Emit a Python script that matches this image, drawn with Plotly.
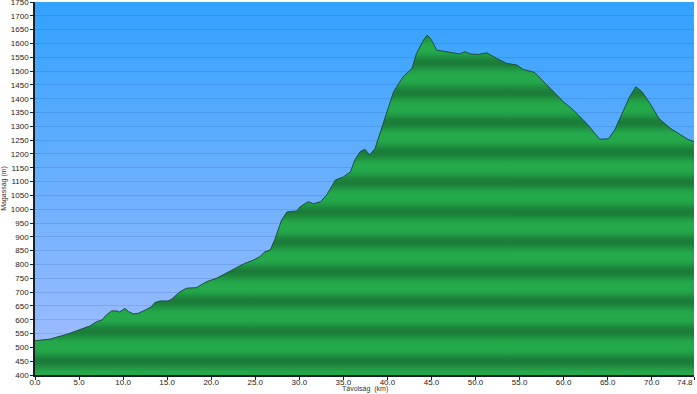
import numpy as np
import plotly.graph_objects as go

# distance along route (km)
dist_km = [0, 1.7, 3.6, 5.0, 6.2, 7.0, 7.6, 8.1, 8.7, 9.3, 9.6, 10.2, 10.6, 11.15, 11.7,
           12.7, 13.2, 13.6, 14.2, 15.1, 15.5, 16.45, 17.2, 18.3, 19.5, 20.6, 21.7, 22.9,
           23.8, 24.8, 25.5, 26.1, 26.7, 27.2, 27.6, 28.0, 28.6, 29.7, 30.1, 31.0, 31.6,
           32.4, 33.1, 34.1, 35.0, 35.8, 36.3, 36.9, 37.45, 38.0, 38.6, 39.5, 40.7, 41.8,
           42.8, 43.3, 44.1, 44.5, 44.9, 45.6, 46.7, 48.2, 48.8, 49.4, 50.3, 51.3, 52.4,
           53.5, 54.7, 55.4, 56.4, 56.75, 57.9, 59.97, 61.1, 62.6, 64.1, 65.1, 65.8, 66.8,
           67.5, 68.2, 68.9, 69.8, 70.8, 72.1, 73.3, 74.2, 74.8]
# elevation (m)
elev_m = [524, 530, 547, 563, 577, 593, 599, 617, 632, 632, 628, 641, 630, 621, 623,
          638, 647, 662, 668, 668, 674, 701, 714, 716, 738, 750, 768, 790,
          804, 816, 828, 846, 852, 889, 925, 961, 990, 994, 1009, 1027, 1020,
          1027, 1051, 1106, 1117, 1135, 1178, 1208, 1217, 1196, 1220, 1305, 1425, 1480,
          1510, 1564, 1612, 1630, 1618, 1576, 1570, 1562, 1570, 1562, 1560, 1566, 1546,
          1528, 1522, 1506, 1498, 1494, 1456, 1389, 1359, 1311, 1253, 1255, 1287, 1359,
          1407, 1443, 1425, 1383, 1329, 1293, 1269, 1251, 1245]
assert len(dist_km) == len(elev_m)

x_tick_vals = [0, 5, 10, 15, 20, 25, 30, 35, 40, 45, 50, 55, 60, 65, 70, 74.8]
x_tick_text = ["0.0", "5.0", "10.0", "15.0", "20.0", "25.0", "30.0", "35.0", "40.0",
               "45.0", "50.0", "55.0", "60.0", "65.0", "70.0", "74.8"]
y_min, y_max, y_step = 400, 1750, 50
y_tick_vals = list(range(y_min, y_max + 1, y_step))

# ---- styling helpers ----
def lerp(c1, c2, t):
    return tuple(int(round(a + (b - a) * t)) for a, b in zip(c1, c2))

def rgb(c):
    return "rgb(%d,%d,%d)" % c

# green banded fill gradient (repeating)
dark_g = (27, 124, 57)
light_g = (36, 170, 75)
period = 108.0
phase_dark = 450.0
stops = []
levels = np.linspace(y_min, y_max, 181)
for e in levels:
    t = 0.5 + 0.5 * np.cos(2 * np.pi * (e - phase_dark) / period)  # 1 at dark
    t = t ** 1.5
    stops.append([(e - y_min) / (y_max - y_min), rgb(lerp(light_g, dark_g, t))])
stops[0][0] = 0.0
stops[-1][0] = 1.0

# sky background bands (overlapping to avoid seams)
bot_b = (166, 190, 255)
top_b = (50, 162, 255)
shapes = []
n_b = 90
edges = np.linspace(y_min, y_max, n_b + 1)
for i in range(n_b):
    t = (i + 0.5) / n_b
    shapes.append(dict(type="rect", xref="paper", yref="y", x0=0, x1=1,
                       y0=edges[i], y1=min(edges[i + 1] + 12, y_max), layer="below",
                       line=dict(width=0), fillcolor=rgb(lerp(bot_b, top_b, t))))

# last x label is right-aligned to its tick (drawn as annotation)
x_tick_text_disp = list(x_tick_text)
x_tick_text_disp[-1] = ""

fig = go.Figure()
fig.add_trace(go.Scatter(
    x=dist_km, y=elev_m, mode="lines",
    line=dict(color="#1e4d3b", width=1),
    fill="tozeroy",
    fillgradient=dict(type="vertical", colorscale=stops, start=y_min, stop=y_max),
    hoverinfo="x+y", showlegend=False,
))

tick_font = dict(family="Liberation Sans, Arial, sans-serif", size=8, color="#222222")
title_font = dict(family="Liberation Sans, Arial, sans-serif", size=7, color="#333333")

plot_h = 394 - 2 - 19
fig.update_layout(
    width=697, height=394,
    margin=dict(l=35, r=3, t=2, b=19, autoexpand=False),
    paper_bgcolor="white",
    plot_bgcolor=rgb(bot_b),
    shapes=shapes,
    xaxis=dict(range=[0, 74.8], tickvals=x_tick_vals, ticktext=x_tick_text_disp,
               showgrid=False, zeroline=False, showline=True, linecolor="#14202a",
               linewidth=1.5, ticks="outside", ticklen=3, tickcolor="#14202a",
               tickfont=tick_font, automargin=False, ticklabeloverflow="allow",
               ticklabelstandoff=-4),
    yaxis=dict(range=[y_min, y_max], tickvals=y_tick_vals,
               showgrid=True, gridcolor="rgba(0,40,120,0.13)", gridwidth=1,
               zeroline=False, showline=True, linecolor="#14202a", linewidth=1.5,
               ticks="outside", ticklen=3, tickcolor="#14202a", tickfont=tick_font,
               automargin=False, ticklabeloverflow="allow",
               title=dict(text="Magasság (m)", font=title_font, standoff=4)),
    annotations=[
        dict(text="Távolság  (km)", xref="paper", yref="paper",
             x=0.5, y=-19.0 / plot_h, xanchor="center", yanchor="bottom",
             showarrow=False, font=title_font, borderpad=0, yshift=0),
        dict(text=x_tick_text[-1], xref="x", yref="paper",
             x=x_tick_vals[-1], y=0, xanchor="right", yanchor="top",
             showarrow=False, font=tick_font, borderpad=0, yshift=-2),
    ],
)

fig.write_html(
    "out.html",
    config={"displayModeBar": False},
    post_script="document.body.style.margin='0';document.body.style.padding='0';"
                "document.body.style.overflow='hidden';",
)
